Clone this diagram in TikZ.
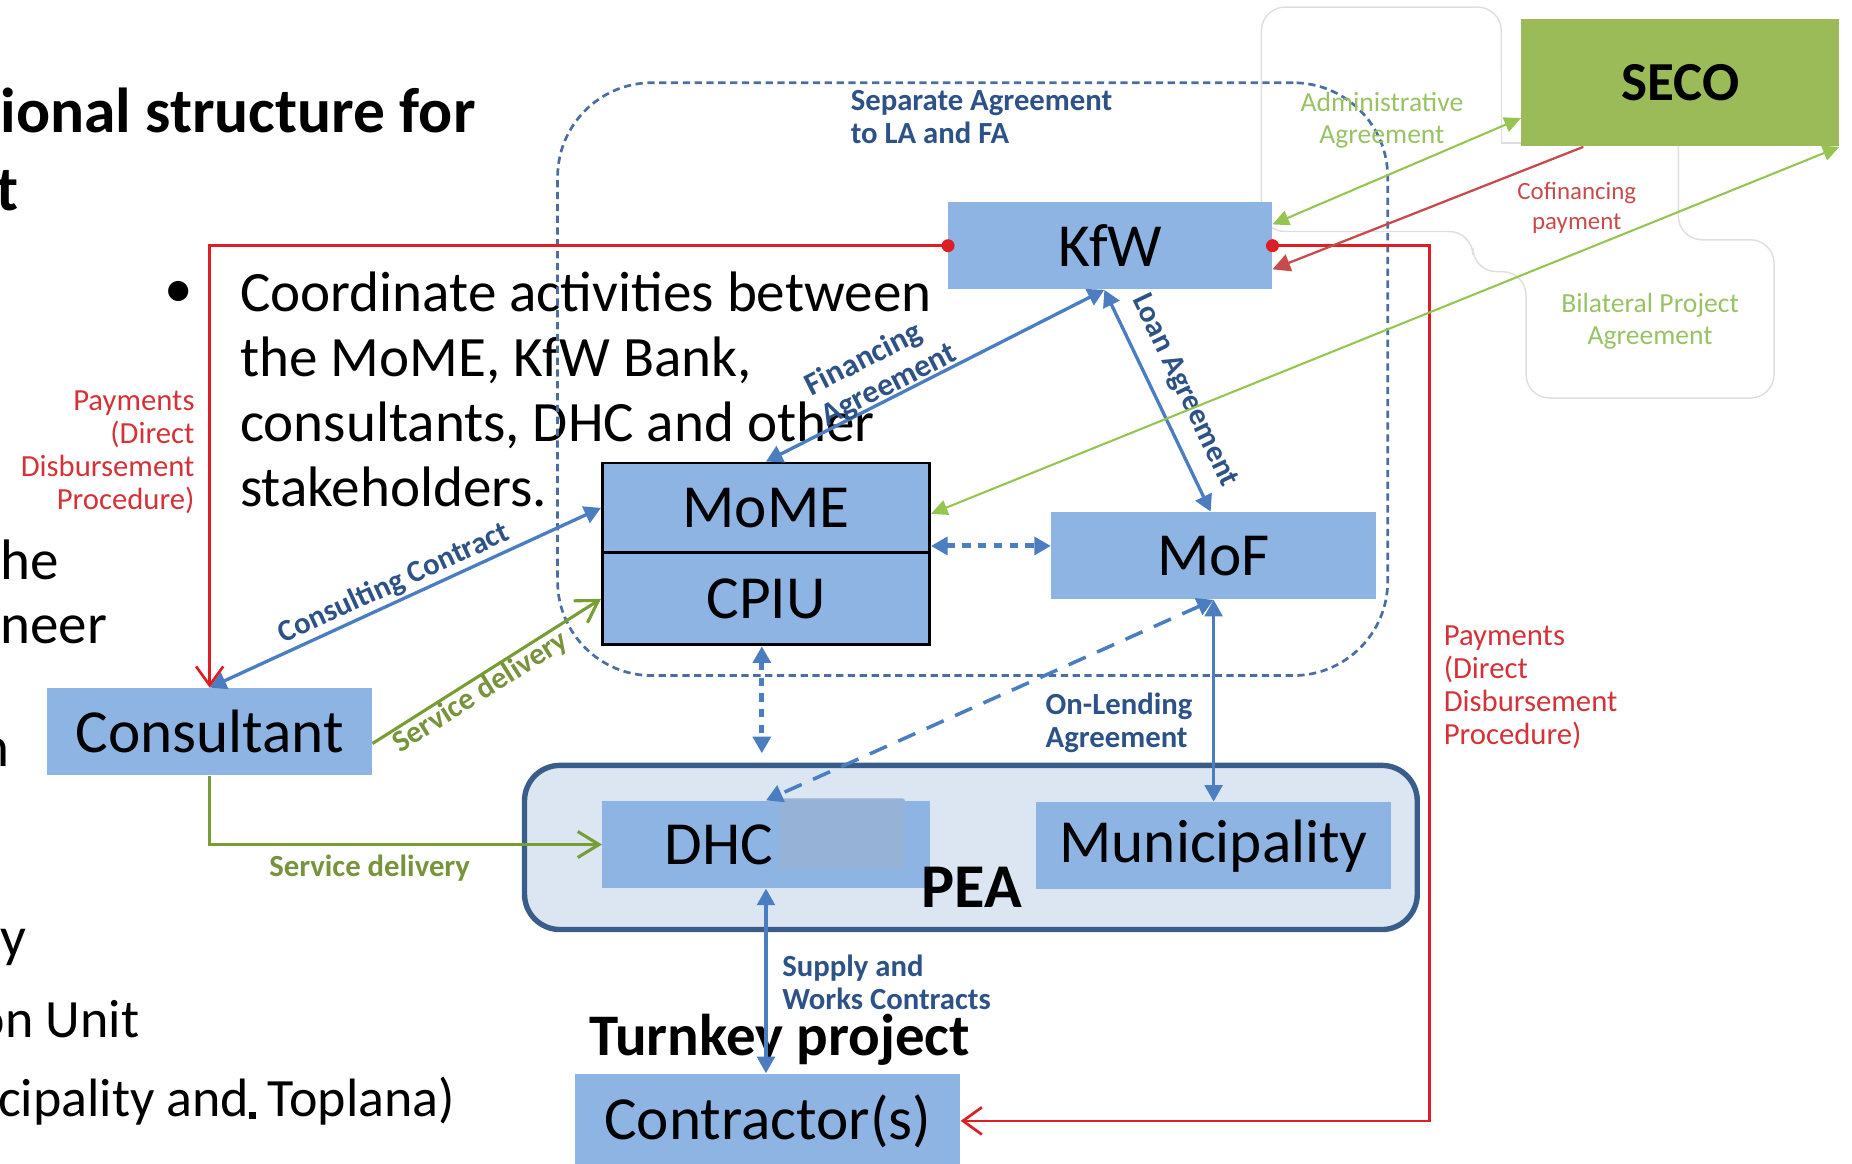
\documentclass[tikz,border=0pt]{standalone}
\usepackage{fontspec}
\setmainfont{Carlito}
\usetikzlibrary{arrows.meta}

\definecolor{boxblue}{RGB}{141,180,226}
\definecolor{hidegrey}{RGB}{150,178,214}
\definecolor{arrowblue}{RGB}{74,126,192}
\definecolor{textblue}{RGB}{44,82,135}
\definecolor{frameblue}{RGB}{75,110,160}
\definecolor{peafill}{RGB}{220,230,242}
\definecolor{peaedge}{RGB}{56,93,138}
\definecolor{payred}{RGB}{222,30,36}
\definecolor{notered}{RGB}{212,50,56}
\definecolor{cofired}{RGB}{200,75,75}
\definecolor{secogreen}{RGB}{155,187,89}
\definecolor{agreegreen}{RGB}{150,196,80}
\definecolor{notegreen}{RGB}{152,195,100}
\definecolor{servgreen}{RGB}{118,158,52}
\definecolor{servtext}{RGB}{119,147,60}
\definecolor{faintgrey}{RGB}{222,222,222}

\newcommand\fBox{\fontsize{29.5}{32}\selectfont}
\newcommand\fSlide{\fontsize{27.5}{31.3}\selectfont}
\newcommand\fSmallSlide{\fontsize{26}{30}\selectfont}
\newcommand\fHead{\fontsize{30}{37.5}\selectfont\bfseries}
\newcommand\fLab{\fontsize{14.8}{15.9}\selectfont}
\newcommand\fNote{\fontsize{13.3}{15.4}\selectfont}
\newcommand\fCofi{\fontsize{12}{14.2}\selectfont}

\tikzset{
	box/.style={fill=boxblue, inner sep=0pt, minimum height=1.48cm, font=\fBox},
	cpbox/.style={box, draw=black, line width=1.4pt},
	bluelab/.style={text=textblue, font=\fLab\bfseries, inner sep=0pt, align=left},
	redlab/.style={text=notered, font=\fLab, inner sep=0pt},
	greenlab/.style={text=notegreen, font=\fNote, inner sep=0pt, align=center},
	slide/.style={font=\fSlide, inner sep=0pt, anchor=base west},
	heading/.style={font=\fHead, inner sep=0pt},
	bluearrow/.style={draw=arrowblue, line width=1.6pt,
		{Triangle[length=0.28cm,width=0.3cm]}-{Triangle[length=0.28cm,width=0.3cm]}},
	dotarrow/.style={bluearrow, line width=2.4pt, dash pattern=on 4pt off 3.6pt},
	payline/.style={draw=payred, line width=1.3pt, -{Straight Barb[length=0.32cm,width=0.46cm]}},
	servline/.style={draw=servgreen, line width=1.5pt, -{Straight Barb[length=0.36cm,width=0.44cm]}},
	agreeline/.style={draw=agreegreen, line width=1pt,
		{Triangle[length=0.28cm,width=0.26cm]}-{Triangle[length=0.28cm,width=0.26cm]}},
	faintline/.style={draw=faintgrey, line width=0.7pt, rounded corners=0.4cm},
}

\begin{document}
\begin{tikzpicture}[x=0.02cm, y=-0.02cm]
	\useasboundingbox (0,0) rectangle (1568,985);

	% outlines of the notes beside SECO
	\draw[faintline] (1271,60) -- (1271,6) -- (1068,6) -- (1068,196) -- (1247,196) -- (1247,230)
		-- (1292,230) -- (1292,337) -- (1502,337) -- (1502,203) -- (1421,203) -- (1421,124);
	\draw[faintline, rounded corners=0pt] (1271,50) -- (1271,121) -- (1290,121);

	% slide text
	\node[heading, anchor=base west, font=\fontsize{30.6}{37.5}\selectfont\bfseries] (title1) at (0,112) {ional structure for};
	\node[heading, anchor=base west, font=\fontsize{30.6}{37.5}\selectfont\bfseries] (title2) at (-3,178) {t};
	\node[slide, anchor=center] (dot) at (151,249) {\textbullet};
	\node[slide, anchor=north west, align=left] (bullet) at (203,230)
		{Coordinate activities between\\the MoME, KfW Bank,\\consultants, DHC and other\\stakeholders.};
	\node[slide] (left1) at (0,491) {he};
	\node[slide] (left2) at (0,545) {neer};
	\node[slide] (left3) at (-18,649) {n};
	\node[slide] (left4) at (0,810) {y};
	\node[slide, font=\fSmallSlide] (left5) at (-20,878) {on Unit};
	\node[slide, font=\fSmallSlide] (left6) at (-2,945) {cipality and\rule[-1.5pt]{3pt}{3.5pt} Toplana)};

	% frames
	\node[draw=frameblue, line width=1.3pt, dash pattern=on 3.5pt off 2.2pt, rounded corners=1.6cm,
		minimum width=14.06cm, minimum height=10.04cm] (frame) at (823.5,321) {};
	\node[draw=peaedge, fill=peafill, line width=2.6pt, rounded corners=0.6cm,
		minimum width=15.12cm, minimum height=2.78cm] (pea) at (822,717.5) {};

	% boxes
	\node[box, minimum width=5.48cm] (kfw) at (940,208) {KfW};
	\node[cpbox, minimum width=5.54cm, minimum height=1.52cm] (mome) at (648.5,430) {MoME};
	\node[cpbox, minimum width=5.54cm, minimum height=1.56cm] (cpiu) at (648.5,507) {CPIU};
	\node[box, minimum width=5.5cm] (mof) at (1027.5,470.5) {MoF};
	\node[box, minimum width=5.5cm] (consultant) at (177.5,619.5) {Consultant};
	\node[box, minimum width=5.54cm] (dhc) at (648.5,715) {DHC\kern1.6cm};
	\fill[hidegrey, rounded corners=1pt] (660,676) rectangle (766,735);
	\node[box, minimum width=6.02cm] (muni) at (1027.5,716) {Municipality};
	\node[box, minimum width=6.52cm, minimum height=1.6cm] (contractor) at (650,949) {Contractor(s)};
	\node[fill=secogreen, minimum width=5.38cm, minimum height=2.16cm, inner sep=0pt,
		font=\fontsize{26.5}{30}\selectfont\bfseries] (seco) at (1422.5,70) {SECO};

	\node[heading] (peatext) at (823,751) {PEA};
	\node[heading, font=\fontsize{28.4}{34}\selectfont\bfseries] (turnkey) at (660,880) {Turnkey project};

	% notes
	\node[bluelab, anchor=west] (sepnote) at (720,99) {Separate Agreement\\to LA and FA};
	\node[greenlab] (adminnote) at (1170,102) {Administrative\\Agreement};
	\node[greenlab, text=cofired, font=\fCofi] (cofinote) at (1335,176) {Cofinancing\\payment};
	\node[greenlab] (bilanote) at (1397,272) {Bilateral Project\\Agreement};
	\node[redlab, align=right, anchor=east] (payleft) at (165,383)
		{Payments\\(Direct\\Disbursement\\Procedure)};
	\node[redlab, align=left, anchor=west] (payright) at (1222,582)
		{Payments\\(Direct\\Disbursement\\Procedure)};
	\node[bluelab, anchor=west] (lendnote) at (885,612) {On-Lending\\Agreement};
	\node[bluelab, anchor=west] (supplynote) at (662,832) {Supply and\\Works Contracts};
	\node[bluelab, text=servtext] (servnote) at (313,735) {Service delivery};

	% connectors
	\draw[bluearrow] (mome.north) -- ([xshift=-0.1cm]kfw.south)
		node[bluelab, font=\fontsize{15.4}{16.5}\selectfont\bfseries, sloped, pos=0.38, above=-0.06cm] (finnote) {Financing\\Agreement};
	\draw[bluearrow] ([xshift=-0.1cm]kfw.south) -- ([xshift=-0.05cm]mof.north)
		node[bluelab, sloped, pos=0.51, above=0.24cm] (loannote) {Loan Agreement};
	\draw[bluearrow] (consultant.north) -- (mome.west)
		node[bluelab, sloped, pos=0.49, above=0.04cm] (consnote) {Consulting Contract};
	\draw[servline] ([yshift=-0.2cm]consultant.east) -- (cpiu.west)
		node[bluelab, text=servtext, sloped, pos=0.44, below=0cm] (servnote2) {Service delivery};
	\draw[servline] (consultant.south) |- (dhc.west);

	\draw[dotarrow] ([yshift=0.14cm]mome.south east) -- ([yshift=0.14cm]mome.south east -| mof.west);
	\draw[dotarrow] ([xshift=-0.07cm]cpiu.south) -- ([xshift=-0.07cm,yshift=0.16cm]cpiu.south |- pea.north);
	\draw[bluearrow, line width=1.7pt, dash pattern=on 9pt off 6pt] (mof.south) -- (dhc.north);
	\draw[bluearrow] (mof.south) -- (muni.north);
	\draw[bluearrow] (dhc.south) -- (dhc.south |- contractor.north);

	\draw[payline] (kfw.west) -| (consultant.north);
	\coordinate (payturn) at (1210,208);
	\draw[payline] (kfw.east) -- (payturn) |- (contractor.east);
	\fill[payred] (kfw.west) circle (0.11cm);
	\fill[payred] (kfw.east) circle (0.11cm);

	\draw[agreeline] ([yshift=0.36cm]kfw.east) -- ([yshift=-0.6cm]seco.west);
	\draw[draw=cofired, line width=1.1pt, -{Triangle[length=0.3cm,width=0.3cm]}]
		([xshift=-1.64cm]seco.south) -- ([yshift=-0.4cm]kfw.east);
	\draw[agreeline] ([yshift=-0.1cm]mome.east) -- (seco.south east);
\end{tikzpicture}
\end{document}
